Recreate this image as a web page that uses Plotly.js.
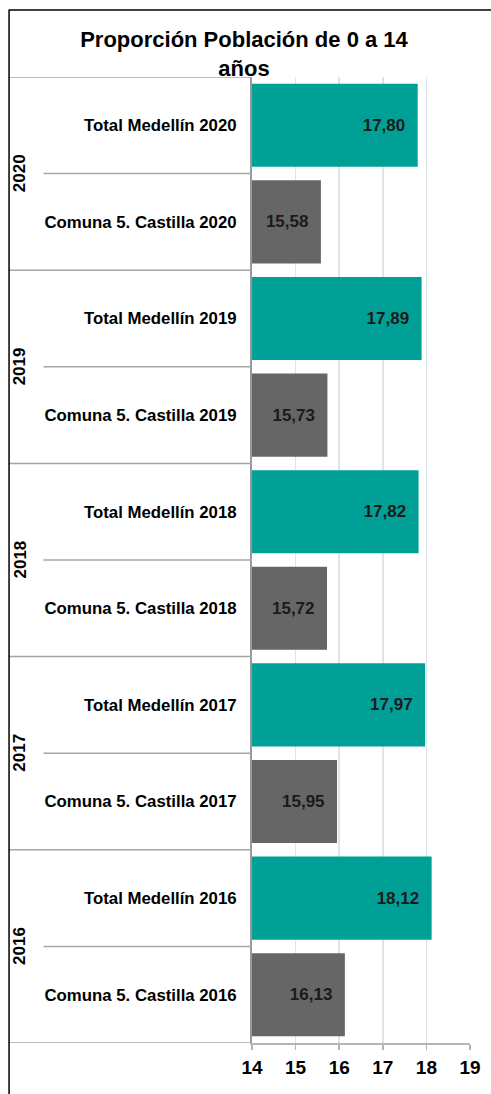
<!DOCTYPE html>
<html>
<head>
<meta charset="utf-8">
<script src="https://cdn.plot.ly/plotly-3.0.1.min.js"></script>
<style>html,body{margin:0;padding:0;background:#fff;}#chart{width:491px;height:1094px;}</style>
</head>
<body>
<div id="chart"></div>
<script>
// ---- data ----
var years = ['2020', '2019', '2018', '2017', '2016'];
var medellinLabels = ['Total Medellín 2020', 'Total Medellín 2019', 'Total Medellín 2018', 'Total Medellín 2017', 'Total Medellín 2016'];
var castillaLabels = ['Comuna 5. Castilla 2020', 'Comuna 5. Castilla 2019', 'Comuna 5. Castilla 2018', 'Comuna 5. Castilla 2017', 'Comuna 5. Castilla 2016'];
var medellinValues = [17.80, 17.89, 17.82, 17.97, 18.12];
var castillaValues = [15.58, 15.73, 15.72, 15.95, 16.13];
var xTicks = [14, 15, 16, 17, 18, 19];
var chartTitle = 'Proporción Población de 0 a 14<br>años';

// ---- layout constants ----
var W = 491, H = 1094;
var M = {l: 252, r: 20.5, t: 77, b: 51};
var plotW = W - M.l - M.r, plotH = H - M.t - M.b;
function px2paperX(px) { return (px - M.l) / plotW; }
function px2paperY(py) { return (H - M.b - py) / plotH; }

var FONT = 'Liberation Sans, Arial, sans-serif';
var TEAL = '#00a096', GREY = '#666666';

var categories = [];
years.forEach(function (y, i) { categories.push(medellinLabels[i]); categories.push(castillaLabels[i]); });

var pad = '\u00a0\u00a0';
var traces = [
  {type: 'bar', orientation: 'h', y: medellinLabels, x: medellinValues,
   marker: {color: TEAL}, texttemplate: '%{x:.2f}' + pad, textposition: 'inside',
   insidetextanchor: 'end', textangle: 0, constraintext: 'none',
   textfont: {family: FONT, size: 17, color: '#1a1a1a', weight: 'bold'}, hoverinfo: 'skip'},
  {type: 'bar', orientation: 'h', y: castillaLabels, x: castillaValues,
   marker: {color: GREY}, texttemplate: '%{x:.2f}' + pad, textposition: 'inside',
   insidetextanchor: 'end', textangle: 0, constraintext: 'none',
   textfont: {family: FONT, size: 17, color: '#1a1a1a', weight: 'bold'}, hoverinfo: 'skip'}
];

var shapes = [];
// category separators
for (var k = 0; k <= categories.length; k++) {
  var longLine = (k % 2 === 0);
  shapes.push({type: 'line', xref: 'paper', yref: 'y',
    x0: px2paperX(longLine ? 8 : 43), x1: 0, y0: k - 0.5, y1: k - 0.5,
    line: {color: '#a6a6a6', width: 1.5}, layer: 'above'});
}
// chart border (left and top)
shapes.push({type: 'line', xref: 'paper', yref: 'paper', x0: px2paperX(8.5), x1: px2paperX(8.5),
  y0: px2paperY(9.5), y1: px2paperY(1100), line: {color: '#000', width: 1.5}});
shapes.push({type: 'line', xref: 'paper', yref: 'paper', x0: px2paperX(8.5), x1: px2paperX(500),
  y0: px2paperY(10), y1: px2paperY(10), line: {color: '#000', width: 1.5}});

var annotations = years.map(function (y, i) {
  return {text: y, xref: 'paper', yref: 'y', x: px2paperX(19), y: 2 * i + 0.5,
    textangle: -90, showarrow: false, xanchor: 'center', yanchor: 'middle',
    font: {family: FONT, size: 17, color: '#000', weight: 'bold'}};
});

var layout = {
  width: W, height: H, margin: M,
  paper_bgcolor: '#fff', plot_bgcolor: '#fff',
  separators: ',.',
  showlegend: false, barmode: 'overlay', bargap: 0.14,
  title: {text: chartTitle, xref: 'container', yref: 'container', x: 244 / W, xanchor: 'center',
    y: 1 - 47 / H, yanchor: 'top',
    font: {family: FONT, size: 22, color: '#000', weight: 'bold'}},
  xaxis: {range: [14, 19], tickvals: xTicks, ticktext: xTicks.map(String),
    showgrid: true, gridcolor: '#dbe6ea', gridwidth: 1.5,
    showline: true, linecolor: '#b5b5b5', linewidth: 1.5,
    ticks: 'outside', ticklen: 5, tickcolor: '#b5b5b5', tickwidth: 1.5,
    ticklabelstandoff: 2,
    tickfont: {family: FONT, size: 19, color: '#000', weight: 'bold'}, zeroline: false, fixedrange: true},
  yaxis: {type: 'category', categoryorder: 'array', categoryarray: categories,
    range: [categories.length - 0.5, -0.5],
    showgrid: false, showline: true, linecolor: '#999999', linewidth: 2,
    ticks: '', ticklabelstandoff: 10,
    tickfont: {family: FONT, size: 16.8, color: '#000', weight: 'bold'}, fixedrange: true},
  shapes: shapes,
  annotations: annotations
};

Plotly.newPlot('chart', traces, layout, {displayModeBar: false, staticPlot: true});
</script>
</body>
</html>
